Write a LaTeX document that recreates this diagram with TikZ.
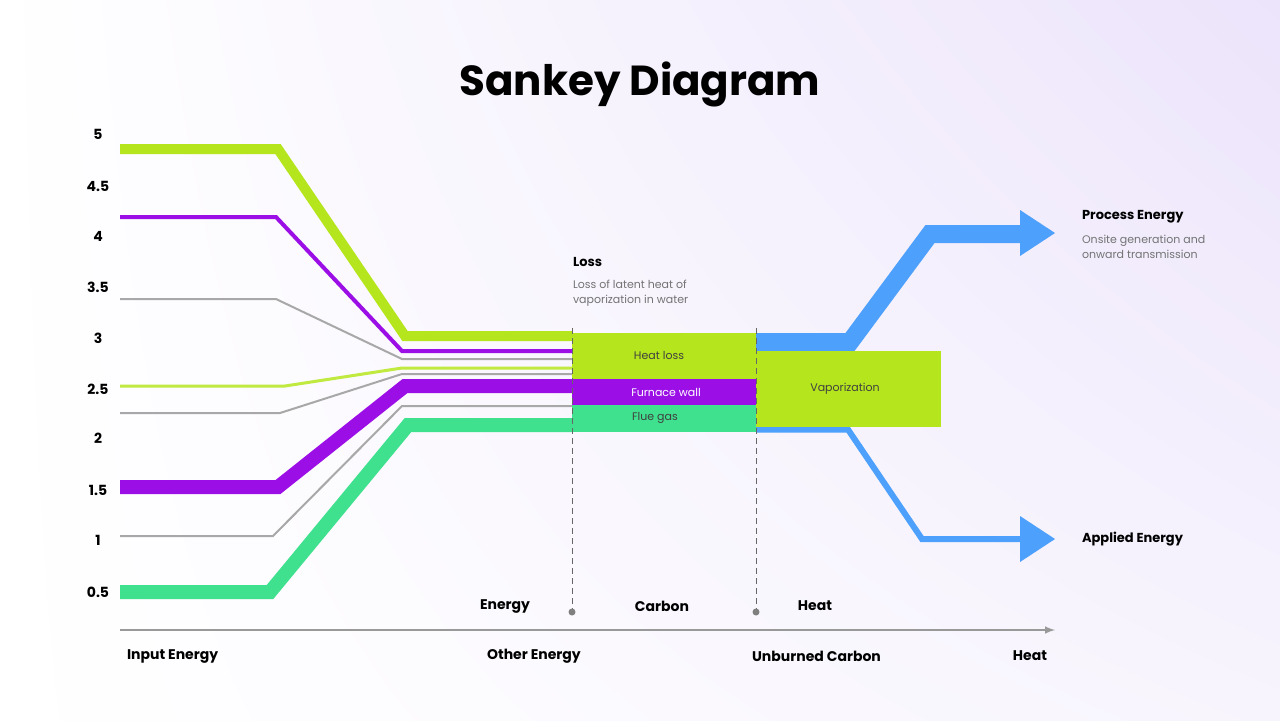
\documentclass[tikz,border=0pt]{standalone}
\usepackage{fontspec}
\setmainfont{Poppins}
\usetikzlibrary{shadings}
\begin{document}
\begin{tikzpicture}[x=0.5pt,y=-0.5pt,
  flow/.style={line join=miter,line cap=butt},
  gl/.style={draw=grayl,line width=1pt,line join=miter},
  ax/.style={font=\fontsize{7}{8}\selectfont\bfseries, text=black},
  small/.style={font=\fontsize{5.5}{7}\selectfont, text=black!75},
  sub/.style={font=\fontsize{5.5}{7.5}\selectfont, text=black!55, align=left, anchor=north west},
  head/.style={font=\fontsize{6.5}{8}\selectfont\bfseries, anchor=west}]
\definecolor{limec}{HTML}{B5E61D}
\definecolor{mint}{HTML}{3FE08E}
\definecolor{purp}{HTML}{9B0FE6}
\definecolor{bluec}{HTML}{4DA0FB}
\definecolor{grayl}{HTML}{A8A8A8}
\definecolor{lav}{HTML}{ECE4FB}
\shade[upper left=white,upper right=lav,lower left=white,lower right=white!60!lav] (0,0) rectangle (1280,720);
\useasboundingbox (0,0) rectangle (1280,720);
\node[font=\fontsize{21}{24}\selectfont\bfseries] (title) at (640,84) {Sankey Diagram};
% flows
\draw[flow,draw=limec,line width=5pt] (120,149) -- (278,149) -- (405,336) -- (572,336);
\draw[flow,draw=purp,line width=2pt] (120,217) -- (276,217) -- (402,351) -- (572,351);
\draw[gl] (120,299) -- (276,299) -- (402,359) -- (572,359);
\draw[flow,draw=limec!85!white,line width=1.5pt] (120,386) -- (285,386) -- (402,368) -- (572,368);
\draw[gl] (120,413) -- (280,413) -- (402,374) -- (572,374);
\draw[flow,draw=purp,line width=7pt] (120,487) -- (278,487) -- (405,386) -- (572,386);
\draw[gl] (120,536) -- (273,536) -- (402,406) -- (572,406);
\draw[flow,draw=mint,line width=7pt] (120,592) -- (270,592) -- (408,425) -- (572,425);
% blue
\draw[flow,draw=bluec,line width=9pt] (756,342) -- (850,342) -- (930,234) -- (1022,234);
\fill[bluec] (1020,210) -- (1055,233) -- (1020,256) -- cycle;
\draw[flow,draw=bluec,line width=3pt] (756,429.5) -- (848,429.5) -- (922,539) -- (1022,539);
\fill[bluec] (1020,516) -- (1055,539) -- (1020,562) -- cycle;
% boxes
\fill[limec] (572,333) rectangle (756,379);
\fill[purp] (572,379) rectangle (756,405);
\fill[mint] (572,405) rectangle (756,432);
\fill[limec] (756,351) rectangle (941,427);
\node[small] (hl) at (659,355) {Heat loss};
\node[small,text=white] (fw) at (666,392) {Furnace wall};
\node[small] (fg) at (655,418) {Flue gas};
\node[small] (vp) at (845,389) {Vaporization};
% dashed guides
\draw[black!60,densely dashed,line width=0.4pt] (572,328) -- (572,612);
\draw[black!60,densely dashed,line width=0.4pt] (756,328) -- (756,612);
\fill[black!50] (572,612) circle (3.5);
\fill[black!50] (756,612) circle (3.5);
% axis
\draw[black!40,line width=0.7pt,-latex] (120,630) -- (1055,630);
\foreach \v/\y in {5/134,4.5/186,4/236,3.5/287,3/338,2.5/389,2/438,1.5/490,1/540,0.5/592}
  \node[ax] at (98,\y) {\v};
\node[ax,anchor=west] (ie) at (120,656) {Input Energy};
\node[ax,anchor=west] (oe) at (480,656) {Other Energy};
\node[ax,anchor=west] (uc) at (745,656) {Unburned Carbon};
\node[ax,anchor=east] (ht) at (1054,656) {Heat};
\node[ax] (en) at (505,606) {Energy};
\node[ax] (ca) at (662,606) {Carbon};
\node[ax] (he) at (815,606) {Heat};
% annotations
\node[head] (loss) at (566,262) {Loss};
\node[sub] (lt) at (566,273) {Loss of latent heat of\\vaporization in water};
\node[head] (pe) at (1075,217) {Process Energy};
\node[sub] (pt) at (1075,228) {Onsite generation and\\onward transmission};
\node[head] (ae) at (1075,539) {Applied Energy};
\end{tikzpicture}
\end{document}
